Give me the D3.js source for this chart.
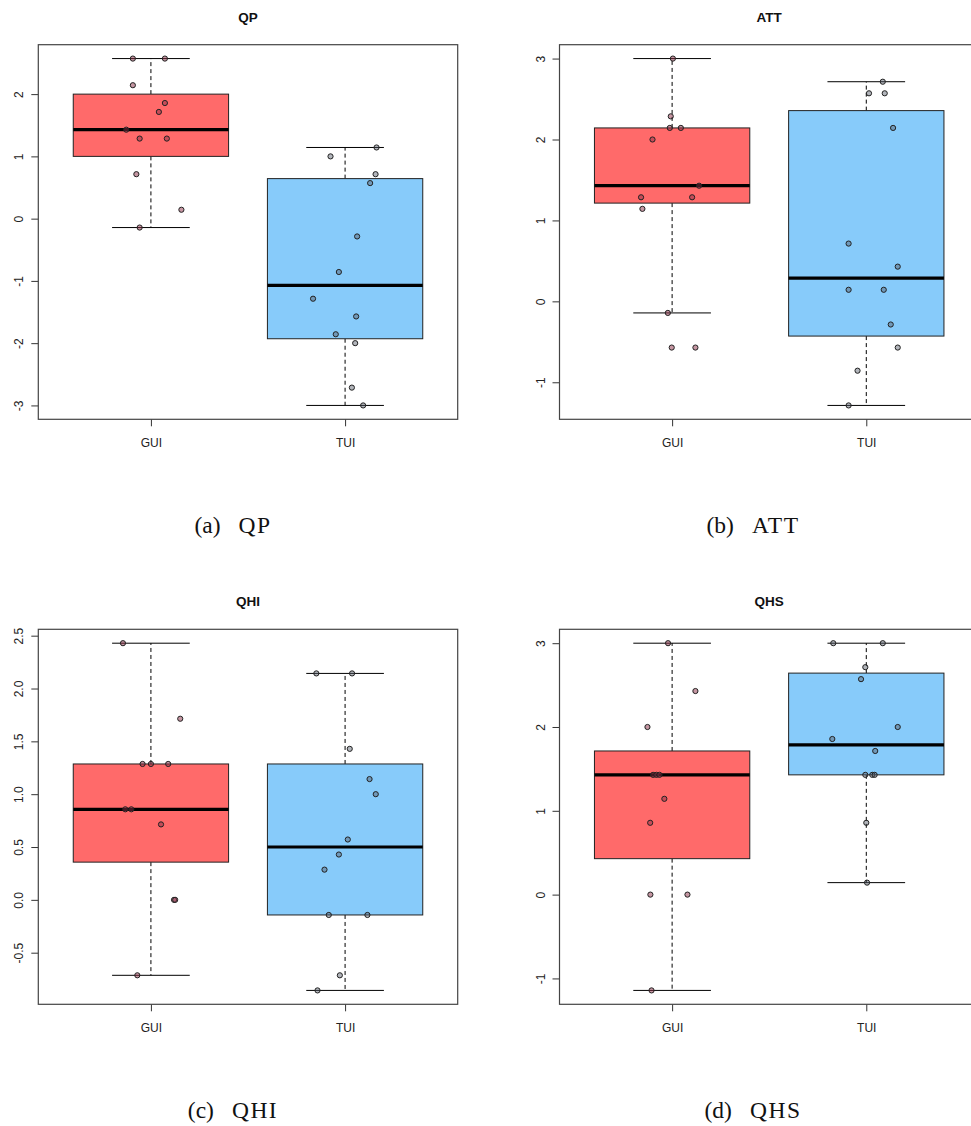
<!DOCTYPE html>
<html>
<head>
<meta charset="utf-8">
<script src="https://cdn.jsdelivr.net/npm/d3@7"></script>
<style>
  body { margin: 0; background: #fff; }
  svg  { display: block; }
</style>
</head>
<body>
<svg id="chart"></svg>
<script>

// groups and panel names
var groups   = ["GUI", "TUI"];
var titles   = ["QP", "ATT", "QHI", "QHS"];
var captions = ["(a)", "(b)", "(c)", "(d)"];

// box statistics: [lower whisker, Q1, median, Q3, upper whisker]
var qpGuiBox  = [-0.143, 1.0, 1.429, 2.0, 2.571];
var qpTuiBox  = [-3.0, -1.929, -1.071, 0.643, 1.143];
var attGuiBox = [-0.143, 1.214, 1.429, 2.143, 3.0];
var attTuiBox = [-1.286, -0.429, 0.286, 2.357, 2.714];
var qhiGuiBox = [-0.714, 0.357, 0.857, 1.286, 2.429];
var qhiTuiBox = [-0.857, -0.143, 0.5, 1.286, 2.143];
var qhsGuiBox = [-1.143, 0.429, 1.429, 1.714, 3.0];
var qhsTuiBox = [0.143, 1.429, 1.786, 2.643, 3.0];

// individual scores (stripchart overlay) and their horizontal jitter in group units
var qpGuiValues  = [2.571, 2.571, 2.143, 1.857, 1.714, 1.429, 1.286, 1.286, 0.714, 0.143, -0.143];
var qpGuiJitter  = [-0.093, 0.072, -0.093, 0.072, 0.041, -0.127, -0.058, 0.082, -0.075, 0.157, -0.058];
var qpTuiValues  = [1.143, 1.0, 0.714, 0.571, -0.286, -0.857, -1.286, -1.571, -1.857, -2.0, -2.714, -3.0];
var qpTuiJitter  = [0.162, -0.075, 0.157, 0.129, 0.062, -0.032, -0.165, 0.057, -0.048, 0.052, 0.035, 0.093];

var attGuiValues = [3.0, 2.286, 2.143, 2.143, 2.0, 1.429, 1.286, 1.286, 1.143, -0.143, -0.571, -0.571];
var attGuiJitter = [0.004, -0.007, -0.012, 0.045, -0.101, 0.139, -0.160, 0.103, -0.153, -0.022, -0.002, 0.120];
var attTuiValues = [2.714, 2.571, 2.571, 2.143, 0.714, 0.429, 0.143, 0.143, -0.286, -0.571, -0.857, -1.286];
var attTuiJitter = [0.085, 0.014, 0.095, 0.138, -0.091, 0.162, -0.091, 0.090, 0.126, 0.162, -0.045, -0.091];

var qhiGuiValues = [2.429, 1.714, 1.286, 1.286, 1.286, 0.857, 0.857, 0.714, 0.0, 0.0, -0.714];
var qhiGuiJitter = [-0.144, 0.151, -0.043, 0.0, 0.089, -0.132, -0.101, 0.052, 0.119, 0.125, -0.070];
var qhiTuiValues = [2.143, 2.143, 1.429, 1.143, 1.0, 0.571, 0.429, 0.286, -0.143, -0.143, -0.714, -0.857];
var qhiTuiJitter = [-0.148, 0.036, 0.024, 0.126, 0.158, 0.014, -0.032, -0.106, -0.084, 0.115, -0.027, -0.142];

var qhsGuiValues = [3.0, 2.429, 2.0, 1.429, 1.429, 1.429, 1.143, 0.857, 0.0, 0.0, -1.143];
var qhsGuiJitter = [-0.021, 0.120, -0.127, -0.098, -0.081, -0.065, -0.040, -0.113, -0.112, 0.079, -0.106];
var qhsTuiValues = [3.0, 3.0, 2.714, 2.571, 2.0, 1.857, 1.714, 1.429, 1.429, 1.429, 0.857, 0.143];
var qhsTuiJitter = [-0.170, 0.085, -0.005, -0.027, 0.162, -0.175, 0.046, -0.005, 0.031, 0.043, 0.0, 0.004];

// y tick values and labels
var qpTicks  = [-3, -2, -1, 0, 1, 2];
var qpLabels = ["-3", "-2", "-1", "0", "1", "2"];
var attTicks  = [-1, 0, 1, 2, 3];
var attLabels = ["-1", "0", "1", "2", "3"];
var qhiTicks  = [-0.5, 0, 0.5, 1, 1.5, 2, 2.5];
var qhiLabels = ["-0.5", "0.0", "0.5", "1.0", "1.5", "2.0", "2.5"];
var qhsTicks  = [-1, 0, 1, 2, 3];
var qhsLabels = ["-1", "0", "1", "2", "3"];

var panels = [
  { boxes: [qpGuiBox, qpTuiBox],   values: [qpGuiValues, qpTuiValues],   jitter: [qpGuiJitter, qpTuiJitter],   ticks: qpTicks,  labels: qpLabels },
  { boxes: [attGuiBox, attTuiBox], values: [attGuiValues, attTuiValues], jitter: [attGuiJitter, attTuiJitter], ticks: attTicks, labels: attLabels },
  { boxes: [qhiGuiBox, qhiTuiBox], values: [qhiGuiValues, qhiTuiValues], jitter: [qhiGuiJitter, qhiTuiJitter], ticks: qhiTicks, labels: qhiLabels },
  { boxes: [qhsGuiBox, qhsTuiBox], values: [qhsGuiValues, qhsTuiValues], jitter: [qhsGuiJitter, qhsTuiJitter], ticks: qhsTicks, labels: qhsLabels }
];

var width  = 971;
var height = 1126;

var boxColors   = ["#FF6A6A", "#87CBFA"];
var pointFills  = ["rgba(140,45,70,0.5)", "rgba(85,90,105,0.45)"];

// plot frames (right column runs off the page, as in the original figure)
var columns  = [{ left: 38.3, right: 457.7, caption: 233 }, { left: 559.5, right: 978.9, caption: 753 }];
var rows     = [{ top: 44.7, bottom: 419.3, caption: 533 }, { top: 629.3, bottom: 1004.3, caption: 1117.5 }];

var svg = d3.select("#chart")
            .attr("width",  width)
            .attr("height", height)
            .style("font-family", "'Liberation Sans', Arial, sans-serif");

function draw_panel(p, i) {
  var col = columns[i % 2];
  var row = rows[Math.floor(i / 2)];

  // R style limits: 0.5 .. n+0.5 and the data range, both padded by 4%
  var x = d3.scaleLinear()
            .domain([0.5 - 0.08, 2.5 + 0.08])
            .range([col.left, col.right]);

  var all = d3.merge(p.values.concat(p.boxes));
  var lo  = d3.min(all), hi = d3.max(all), pad = (hi - lo) * 0.04;
  var y = d3.scaleLinear()
            .domain([lo - pad, hi + pad])
            .range([row.bottom, row.top]);

  var g = svg.append("g").attr("class", "panel");

  var boxes = g.selectAll("g.box")
               .data(p.boxes)
               .enter().append("g")
               .attr("class", "box");

  // dashed whiskers
  boxes.append("line")
       .attr("x1", function (d, j) { return x(j + 1); })
       .attr("x2", function (d, j) { return x(j + 1); })
       .attr("y1", function (d) { return y(d[3]); })
       .attr("y2", function (d) { return y(d[4]); })
       .attr("stroke", "#000").attr("stroke-width", 1).attr("stroke-dasharray", "4,3");
  boxes.append("line")
       .attr("x1", function (d, j) { return x(j + 1); })
       .attr("x2", function (d, j) { return x(j + 1); })
       .attr("y1", function (d) { return y(d[1]); })
       .attr("y2", function (d) { return y(d[0]); })
       .attr("stroke", "#000").attr("stroke-width", 1).attr("stroke-dasharray", "4,3");

  // staples
  [0, 4].forEach(function (k) {
    boxes.append("line")
         .attr("x1", function (d, j) { return x(j + 1 - 0.2); })
         .attr("x2", function (d, j) { return x(j + 1 + 0.2); })
         .attr("y1", function (d) { return y(d[k]); })
         .attr("y2", function (d) { return y(d[k]); })
         .attr("stroke", "#000").attr("stroke-width", 1);
  });

  boxes.append("rect")
       .attr("x",      function (d, j) { return x(j + 1 - 0.4); })
       .attr("width",  function (d, j) { return x(j + 1 + 0.4) - x(j + 1 - 0.4); })
       .attr("y",      function (d) { return y(d[3]); })
       .attr("height", function (d) { return y(d[1]) - y(d[3]); })
       .attr("fill",   function (d, j) { return boxColors[j]; })
       .attr("stroke", "#222").attr("stroke-width", 1);

  // median
  boxes.append("line")
       .attr("x1", function (d, j) { return x(j + 1 - 0.4); })
       .attr("x2", function (d, j) { return x(j + 1 + 0.4); })
       .attr("y1", function (d) { return y(d[2]); })
       .attr("y2", function (d) { return y(d[2]); })
       .attr("stroke", "#000").attr("stroke-width", 3.2);

  // jittered points on top
  p.values.forEach(function (vals, j) {
    g.append("g")
     .selectAll("circle")
     .data(vals)
     .enter().append("circle")
     .attr("cx", function (d, k) { return x(j + 1 + p.jitter[j][k]); })
     .attr("cy", function (d) { return y(d); })
     .attr("r", 2.6)
     .attr("fill", pointFills[j])
     .attr("stroke", "#222")
     .attr("stroke-width", 1);
  });

  // y axis, labels parallel to the axis
  var yAxis = g.append("g")
               .attr("transform", "translate(" + col.left + ",0)")
               .attr("color", "#333")
               .call(d3.axisLeft(y)
                       .tickValues(p.ticks)
                       .tickFormat(function (d, k) { return p.labels[k]; })
                       .tickSize(7)
                       .tickSizeOuter(0));
  yAxis.select(".domain").remove();
  yAxis.selectAll("text")
       .attr("transform", "rotate(-90)")
       .attr("x", 0)
       .attr("y", -15)
       .attr("dy", 0)
       .attr("text-anchor", "middle")
       .attr("fill", "#222")
       .style("font-family", "'Liberation Sans', Arial, sans-serif")
       .style("font-size", "12px");

  var xAxis = g.append("g")
               .attr("transform", "translate(0," + row.bottom + ")")
               .attr("color", "#333")
               .call(d3.axisBottom(x)
                       .tickValues([1, 2])
                       .tickFormat(function (d, k) { return groups[k]; })
                       .tickSize(7)
                       .tickSizeOuter(0));
  xAxis.select(".domain").remove();
  xAxis.selectAll("text")
       .attr("y", 28)
       .attr("dy", 0)
       .attr("fill", "#222")
       .style("font-family", "'Liberation Sans', Arial, sans-serif")
       .style("font-size", "12px");

  // frame
  g.append("rect")
   .attr("x", col.left)
   .attr("y", row.top)
   .attr("width",  col.right - col.left)
   .attr("height", row.bottom - row.top)
   .attr("fill", "none")
   .attr("stroke", "#444")
   .attr("stroke-width", 1.2);

  g.append("text")
   .attr("x", (col.left + col.right) / 2)
   .attr("y", row.top - 23)
   .attr("text-anchor", "middle")
   .style("font-weight", "bold")
   .style("font-size", "13.5px")
   .attr("fill", "#111")
   .text(titles[i]);

  // subfigure caption in serif, Computer Modern is wider than Times so space it out a bit
  var cap = svg.append("text")
               .attr("x", col.caption)
               .attr("y", row.caption)
               .attr("text-anchor", "middle")
               .style("font-family", "'Liberation Serif', 'Times New Roman', serif")
               .style("font-size", "23.5px")
               .attr("fill", "#111");
  cap.append("tspan").text(captions[i]);
  cap.append("tspan").attr("dx", 18).style("letter-spacing", "1.5px").text(titles[i]);
}

panels.forEach(draw_panel);

</script>
</body>
</html>
